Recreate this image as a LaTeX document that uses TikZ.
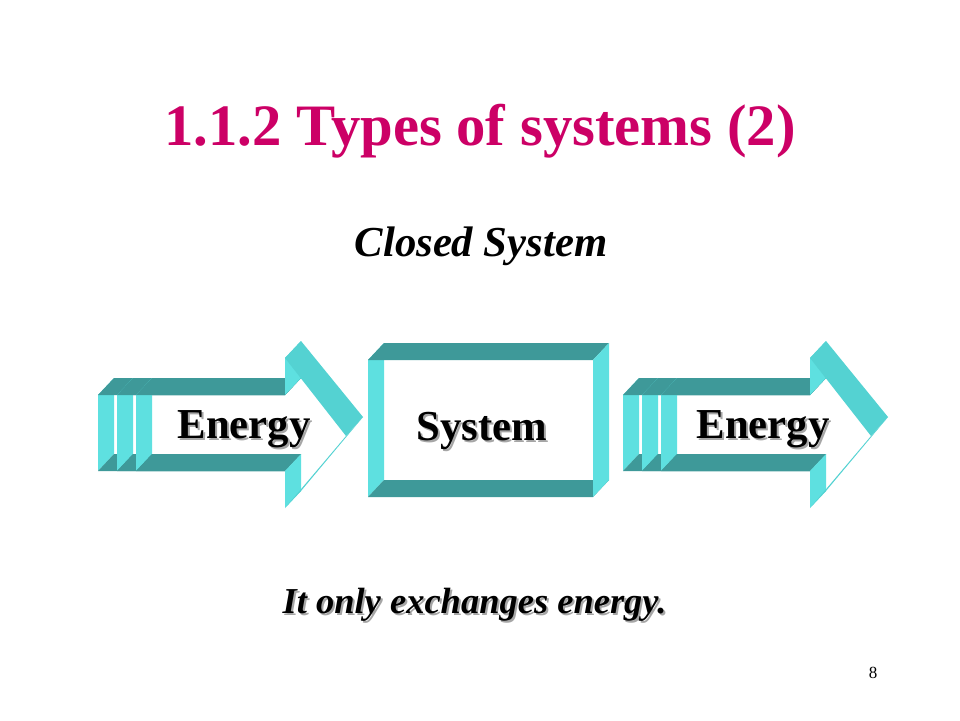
\documentclass[tikz,border=0pt]{standalone}
\usepackage{fontspec}
\setmainfont{Liberation Serif}
\usetikzlibrary{positioning}

\definecolor{slidemag}{RGB}{204,0,102}
\definecolor{bandteal}{RGB}{62,153,153}
\definecolor{sidecyan}{RGB}{94,224,224}
\definecolor{slantcyan}{RGB}{84,210,210}

% one slab of the tail, front edge at x=#1
\newcommand{\tailslab}[1]{
\fill[side] (#1,395) -- (#1,471) -- (#1+16,454) -- (#1+16,378) -- cycle;
\fill[band] (#1,395) -- (285,395) -- (301,378) -- (#1+16,378) -- cycle;
\fill[band] (#1,471) -- (285,471) -- (301,454) -- (#1+16,454) -- cycle;
}
% hollow arrow head on the last slab
\newcommand{\hollowarrow}[1]{
\tailslab{#1}
\fill[side] (285,395) -- (285,358) -- (301,341) -- (301,378) -- cycle;
\fill[side] (285,471) -- (285,508) -- (301,491) -- (301,454) -- cycle;
\fill[slant] (285,358) -- (346,436) -- (363,417) -- (301,341) -- cycle;
\fill[slant] (346,436) -- (285,508) -- (301,491) -- (363,417) -- cycle;
}

\begin{document}
\begin{tikzpicture}[x=1pt,y=-1pt,
band/.style={fill=bandteal},
side/.style={fill=sidecyan},
slant/.style={fill=slantcyan},
every node/.style={inner sep=0pt,anchor=base},
title/.style={text=slidemag,font=\bfseries\fontsize{58.7}{60}\selectfont},
label/.style={font=\bfseries\fontsize{42.7}{44}\selectfont},
labelshade/.style={label,text=black!35},
note/.style={font=\bfseries\itshape\fontsize{36.5}{38}\selectfont},
noteshade/.style={note,text=black!35}]
\useasboundingbox[fill=white] (0,0) rectangle (960,720);

\node[title] (title) at (480,145) {1.1.2 Types of systems (2)};
\node[font=\bfseries\itshape\fontsize{42.7}{44}\selectfont] (closed) at (481,256) {Closed System};

% the two arrows
\foreach \sx in {0,525}{
\begin{scope}[xshift=\sx]
\tailslab{98}
\tailslab{117}
\hollowarrow{136}
\end{scope}
}

% system box
\fill[side] (368,360) -- (368,497) -- (384,480) -- (384,343) -- cycle;
\fill[band] (368,497) -- (593,497) -- (609,480) -- (384,480) -- cycle;
\fill[band] (368,360) -- (593,360) -- (609,343) -- (384,343) -- cycle;
\fill[side] (593,360) -- (593,497) -- (609,480) -- (609,343) -- cycle;

\node[labelshade] (ein-s) at (246,440) {Energy};
\node[label] (ein) at (244,438) {Energy};
\node[labelshade] (sys-s) at (484,442) {System};
\node[label] (sys) at (482,440) {System};
\node[labelshade] (eout-s) at (765,440) {Energy};
\node[label] (eout) at (763,438) {Energy};

\node[noteshade] (note-s) at (476.5,615) {It only exchanges energy.};
\node[note] (note) at (474.5,613) {It only exchanges energy.};

\node[font=\fontsize{17}{18}\selectfont] (page) at (873,678) {8};
\end{tikzpicture}
\end{document}
